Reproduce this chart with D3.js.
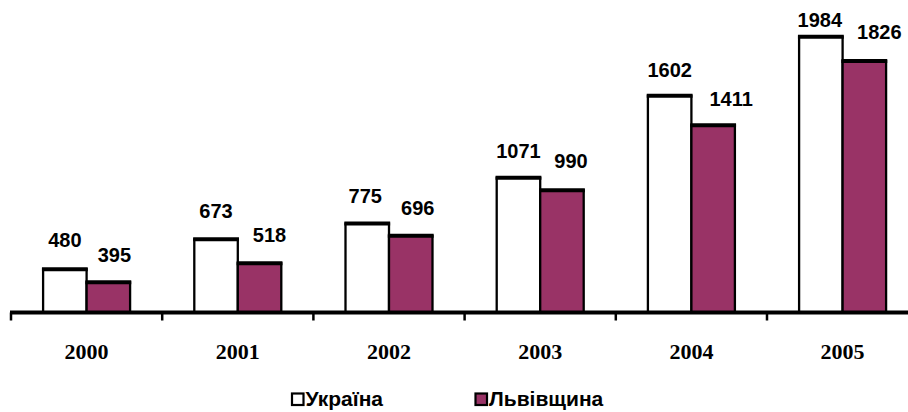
<!DOCTYPE html>
<html>
<head>
<meta charset="utf-8">
<script src="https://cdn.jsdelivr.net/npm/d3@7"></script>
<style>
  html, body { margin: 0; padding: 0; background: #fff; }
  svg { display: block; }
</style>
</head>
<body>
<script>
// Data
const years = ["2000", "2001", "2002", "2003", "2004", "2005"];
const ukraine = [480, 673, 775, 1071, 1602, 1984];
const lviv = [395, 518, 696, 990, 1411, 1826];
const seriesNames = ["Україна", "Львівщина"];
const seriesColors = ["#ffffff", "#993366"];
const series = [ukraine, lviv];

// Hand-placed value label nudges (px): horizontal shift and baseline offset above the bar top
const labelDx = [[0, 0, -2, 0, 0, -1], [6, 10, 7, 9, 18, 15]];
const labelDy = [[-22.5, -21, -21, -19.5, -19, -9.4], [-20, -21, -21, -22.5, -19.6, -21.8]];

const W = 908, H = 412;
const svg = d3.select("body").append("svg").attr("width", W).attr("height", H);

// Scales
const x0 = d3.scaleBand().domain(years).range([11, 11 + 6 * 151.2]).padding(0);
const x1 = d3.scaleBand().domain(d3.range(series.length))
  .range([0, x0.bandwidth()]).paddingInner(0).paddingOuter(0.738);
const y = d3.scaleLinear().domain([200, 2000]).range([312.5, 34.2]);

const rows = years.map((yr, i) => ({
  year: yr,
  items: series.map((s, k) => ({ v: s[i], k, dx: labelDx[k][i], dy: labelDy[k][i] }))
}));

const groups = svg.append("g").selectAll("g").data(rows).join("g")
  .attr("transform", d => `translate(${x0(d.year)},0)`);

// Bars
groups.selectAll("rect").data(d => d.items).join("rect")
  .attr("x", d => x1(d.k))
  .attr("y", d => y(d.v))
  .attr("width", x1.bandwidth())
  .attr("height", d => y.range()[0] - y(d.v))
  .attr("fill", d => seriesColors[d.k])
  .attr("stroke", "#000")
  .attr("stroke-width", 2.3);

// Heavier top edge of each bar
groups.selectAll("line.top").data(d => d.items).join("line")
  .attr("class", "top")
  .attr("x1", d => x1(d.k) - 1.15)
  .attr("x2", d => x1(d.k) + x1.bandwidth() + 1.15)
  .attr("y1", d => y(d.v))
  .attr("y2", d => y(d.v))
  .attr("stroke", "#000")
  .attr("stroke-width", 4);

// Value labels
groups.selectAll("text").data(d => d.items).join("text")
  .attr("x", d => x1(d.k) + x1.bandwidth() / 2 + d.dx)
  .attr("y", d => y(d.v) + d.dy)
  .attr("text-anchor", "middle")
  .attr("font-family", "'Liberation Sans', Arial, sans-serif")
  .attr("font-weight", "bold")
  .attr("font-size", "20px")
  .attr("fill", "#000")
  .text(d => d.v);

// Category axis
const axisY = y.range()[0];
const axis = svg.append("g");
axis.append("line")
  .attr("x1", 10).attr("x2", W)
  .attr("y1", axisY).attr("y2", axisY)
  .attr("stroke", "#000").attr("stroke-width", 4);
const tickPos = years.map(d => x0(d)).concat([x0.range()[1]]);
axis.selectAll("line.tick").data(tickPos).join("line")
  .attr("class", "tick")
  .attr("x1", d => d).attr("x2", d => d)
  .attr("y1", axisY).attr("y2", axisY + 8)
  .attr("stroke", "#000").attr("stroke-width", 2.5);
axis.selectAll("text").data(years).join("text")
  .attr("x", d => x0(d) + x0.bandwidth() / 2)
  .attr("y", 359)
  .attr("text-anchor", "middle")
  .attr("font-family", "'Liberation Serif', 'Times New Roman', serif")
  .attr("font-weight", "bold")
  .attr("font-size", "22px")
  .attr("fill", "#000")
  .text(d => d);

// Legend
const legendX = [291, 474.5];
const legend = svg.append("g").selectAll("g").data(seriesNames).join("g")
  .attr("transform", (d, i) => `translate(${legendX[i]},0)`);
legend.append("rect")
  .attr("x", 1).attr("y", 393.5)
  .attr("width", 11.5).attr("height", 11.5)
  .attr("fill", (d, i) => seriesColors[i])
  .attr("stroke", "#000").attr("stroke-width", 2.2);
legend.append("text")
  .attr("x", 14.5).attr("y", 406)
  .attr("font-family", "'Liberation Sans', Arial, sans-serif")
  .attr("font-weight", "bold")
  .attr("font-size", "21px")
  .attr("fill", "#000")
  .text(d => d);
</script>
</body>
</html>
